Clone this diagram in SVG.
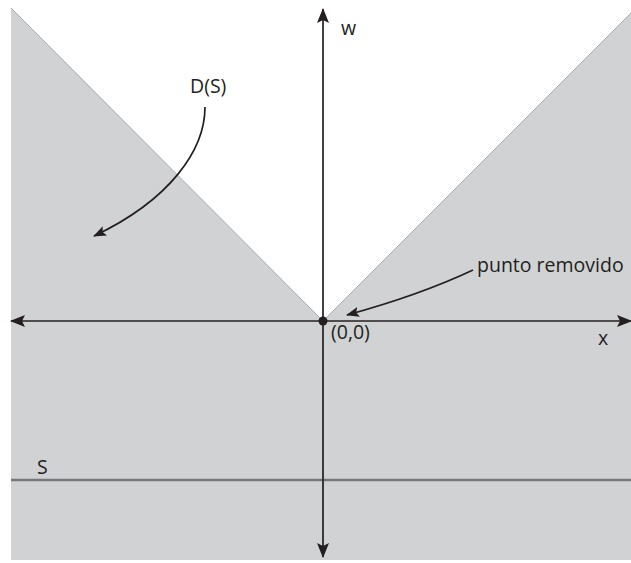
<svg xmlns="http://www.w3.org/2000/svg" width="631" height="563" viewBox="0 0 631 563">
<defs>
<style>
.lbl{font-family:"Open Sans","Liberation Sans",sans-serif;font-size:19.5px;fill:#231f20}
.axis{stroke:#231f20;stroke-width:1.7;fill:none}
.ptr{stroke:#231f20;stroke-width:1.7;fill:none}
</style>
<marker id="ah" viewBox="0 0 15 12" refX="14" refY="6" markerWidth="15" markerHeight="12" markerUnits="userSpaceOnUse" orient="auto-start-reverse">
<path d="M0,0 L15,6 L0,12 L3,6 z" fill="#231f20"/>
</marker>
<marker id="ah2" viewBox="0 0 13 10" refX="12" refY="5" markerWidth="13" markerHeight="10" markerUnits="userSpaceOnUse" orient="auto">
<path d="M0,0 L13,5 L0,10 L2.5,5 z" fill="#231f20"/>
</marker>
</defs>
<rect width="631" height="563" fill="#ffffff"/>
<g id="region">
<polygon points="11,8 323,321 631,13 631,560 11,560" fill="#d1d2d4"/>
<polyline points="11,8 323,321 631,13" fill="none" stroke="#a9aaac" stroke-width="1"/>
</g>
<g id="line-S">
<line x1="11" y1="480" x2="631" y2="480" stroke="#77787b" stroke-width="2.5"/>
<text class="lbl" x="37" y="474">S</text>
</g>
<g id="connectors">
<line class="axis" x1="323" y1="9" x2="323" y2="557" marker-start="url(#ah)" marker-end="url(#ah)"/>
<line class="axis" x1="11" y1="321" x2="631" y2="321" marker-start="url(#ah)" marker-end="url(#ah)"/>
<path class="ptr" d="M205,107 C205,150 170,200 94,236" marker-end="url(#ah2)"/>
<path class="ptr" d="M473,270 Q420,295 347,315" marker-end="url(#ah2)"/>
</g>
<g id="origin">
<circle cx="323" cy="321" r="4.5" fill="#231f20"/>
<text class="lbl" x="331" y="339">(0,0)</text>
</g>
<g id="labels">
<text class="lbl" x="341" y="35">w</text>
<text class="lbl" x="190" y="93">D(S)</text>
<text class="lbl" x="477" y="272">punto removido</text>
<text class="lbl" x="598" y="345">x</text>
</g>
</svg>
